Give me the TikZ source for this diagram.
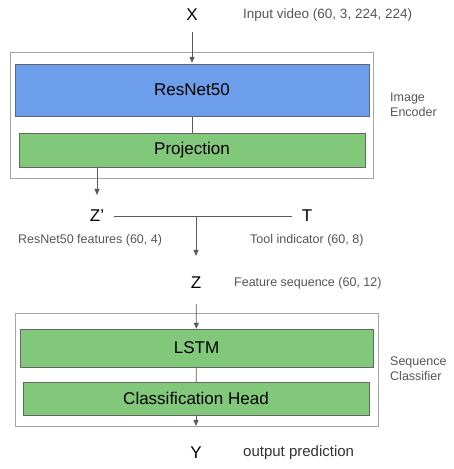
\documentclass[tikz,border=0pt]{standalone}
\usepackage{fontspec}
\setmainfont{Liberation Sans}
\usepackage{tikz}
\usetikzlibrary{calc,shapes,positioning}
\usetikzlibrary{arrows.meta}
\tikzset{>={Triangle[width=5pt,length=6pt]}}
\definecolor{netblue}{RGB}{109,158,235}
\definecolor{netgreen}{RGB}{130,200,122}
\definecolor{linegray}{RGB}{90,90,90}
\definecolor{txtgray}{RGB}{85,85,85}

\begin{document}
\begin{tikzpicture}[x=1pt,y=-1pt]
        \begin{scope}

          \tikzstyle{vnode} = [inner sep = 0pt, font=\fontsize{17}{19}\selectfont]
          \tikzstyle{lnode} = [inner sep = 0pt, anchor=west, text=txtgray, font=\fontsize{12.5}{15}\selectfont, align=left]
          \tikzstyle{gnode} = [draw=gray!70, thick, rectangle, inner sep = 0pt]
          \tikzstyle{bnode} = [draw=gray!120, rectangle, inner sep = 0pt, font=\fontsize{17}{19}\selectfont]
          \tikzstyle{conn} = [draw=linegray, thick]
          \useasboundingbox (0,0) rectangle (454,469);

          % image encoder
          \node[gnode, minimum width=363pt, minimum height=126pt] (encbox) at (191.5,115) {};
          \node[bnode, fill=netblue, minimum width=354pt, minimum height=52pt] (resnet) at (192,90) {ResNet50};
          \node[bnode, fill=netgreen, minimum width=346pt, minimum height=34pt] (proj) at (192,150) {Projection};
          \node[lnode] (enclab) at (390,105) {Image\\Encoder};

          \node[vnode] (x) at (192,15) {X};
          \node[lnode, font=\fontsize{13.5}{16}\selectfont] (xlab) at (243,15) {Input video (60, 3, 224, 224)};

          \node[vnode] (zp) at (97,216) {Z’};
          \node[vnode] (t) at (307,216) {T};
          \coordinate (zm) at (196,216);
          \node[lnode] (zplab) at (18,240) {ResNet50 features (60, 4)};
          \node[lnode] (tlab) at (250,240) {Tool indicator (60, 8)};

          \node[vnode] (z) at (196,283) {Z};
          \node[lnode] (zlab) at (234,283) {Feature sequence (60, 12)};

          % sequence classifier
          \node[gnode, minimum width=363pt, minimum height=113pt] (clsbox) at (196.5,369.5) {};
          \node[bnode, fill=netgreen, minimum width=353pt, minimum height=38pt] (lstm) at (196.5,348) {LSTM};
          \node[bnode, fill=netgreen, minimum width=346pt, minimum height=33pt] (head) at (196,398.5) {Classification Head};
          \node[lnode] (clslab) at (390,369) {Sequence\\Classifier};

          \node[vnode] (y) at (196,453) {Y};
          \node[lnode, text=black!80, font=\fontsize{15}{18}\selectfont] (ylab) at (243,453) {output prediction};

          \draw[conn,->, shorten <=11pt, shorten >=1pt] (x) -- (resnet);
          \draw[conn] (resnet) -- (proj);
          \draw[conn,->, shorten >=15pt] (proj.south -| zp) -- (zp);
          \draw[conn, shorten <=10pt, shorten >=10pt] (zp) -- (t);
          \draw[conn,->, shorten >=21pt] (zm) -- (z);
          \draw[conn,->, shorten <=15pt] (z) -- (lstm);
          \draw[conn] (lstm) -- (head);
          \draw[conn,->, shorten >=21pt] (head.south) -- (y);

        \end{scope}
      \end{tikzpicture}
\end{document}
